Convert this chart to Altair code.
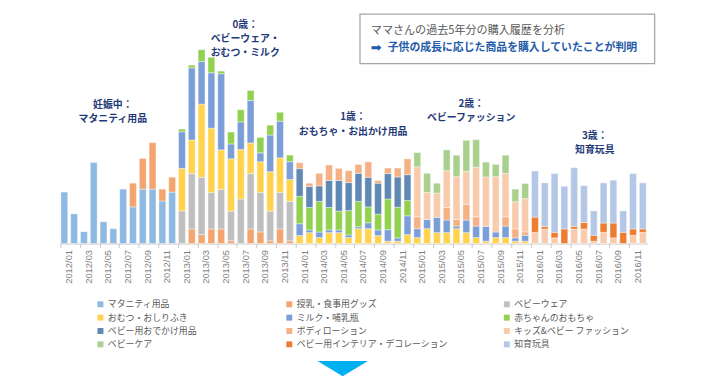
import altair as alt
import pandas as pd

months = [f"{y}/{m:02d}" for y in range(2012, 2017) for m in range(1, 13)]
odd_months = [m for m in months if int(m[-2:]) % 2 == 1]

categories = ["マタニティ用品", "授乳・食事用グッズ", "ベビーウェア",
              "おむつ・おしりふき", "ミルク・哺乳瓶", "赤ちゃんのおもちゃ",
              "ベビー用おでかけ用品", "ボディローション", "キッズ&ベビー ファッション",
              "ベビーケア", "ベビー用インテリア・デコレーション", "知育玩具"]
colors = ["#8db9e2", "#f4a46e", "#bfbfbf",
          "#ffd34e", "#7b9ed9", "#92d050",
          "#5f88b4", "#f5b183", "#f8cbad",
          "#a9d18e", "#ed7d31", "#b4c7e7"]

Z = [0] * 12
maternity = [52, 30, 12, 82, 22, 15, 55, 37, 55, 55, 43, 52] + Z + Z + Z + Z
feeding = [0, 0, 0, 0, 0, 0, 0, 24, 31, 47, 12, 15] + \
          [0, 14.7, 9, 14.7, 14.7, 2.7, 0, 14.7, 11.7, 2.7, 14.7, 2.7] + Z + Z + Z
babywear = Z + [33, 56, 58, 37, 40, 30, 45, 56, 40, 30, 37, 40] + Z + Z + Z
diapers = Z + [43, 34, 74, 65, 40, 53, 50, 31, 31, 40, 35, 22] + \
          [8, 11, 6, 11, 11, 6, 15, 15, 8, 2.3, 2.3, 9] + \
          [6, 15, 11, 11, 15, 11, 6, 2.3, 6, 6, 2.3, 2.3] + Z
milk = Z + [37, 73, 43, 56, 77, 15, 28, 43, 9, 37, 37, 18] + \
       [12, 2.7, 5.6, 2.7, 2.7, 2.6, 2, 6, 5.7, 11.7, 3.4, 19] + \
       [9, 9.3, 15.4, 12.7, 2.6, 12.7, 11.6, 15, 5.6, 11.6, 3.4, 6] + Z
toys = Z + [2.7, 2.7, 12, 15.7, 2.7, 12, 12.3, 10, 15.6, 10, 9, 6.7] + \
       [27.7, 22.7, 31, 22.7, 19, 24.7, 25.6, 16, 16, 31, 31, 15.6] + Z + Z
outing = Z + Z + [28, 21.3, 15.7, 27.3, 31, 28.3, 28.4, 30, 31.3, 25.7, 30.6, 26] + Z + Z
lotion = Z + Z + [6, 3.3, 12.7, 15.7, 12.3, 12, 9, 15.6, 2.7, 5.6, 9, 16] + \
         [12, 0, 0, 12.7, 6.7, 16, 9.4, 0, 0, 9.4, 9, 3.4] + Z
fashion = Z + Z + Z + [50.6, 27.3, 24.6, 37.3, 43.3, 33.3, 50, 50, 56, 44, 27.6, 33.7] + \
          [11.3, 14.7, 5.7, 0, 14.7, 14.7, 2.3, 11.3, 5.7, 0, 8.3, 11.3]
babycare = Z + Z + Z + [14.4, 19.4, 10, 21, 21.7, 31.4, 28, 15, 12.4, 18.3, 12.7, 15.3] + Z
interior = Z + Z + Z + Z + [15.4, 2.6, 5.6, 14.7, 2.6, 6.6, 6, 9.4, 15, 11.3, 6.4, 3.4]
edu_toys = Z + Z + Z + Z + [46.6, 44, 59.4, 43.3, 59.4, 37.3, 24.7, 40.6, 43.3, 21.7, 56, 46.6]

series = [maternity, feeding, babywear, diapers, milk, toys,
          outing, lotion, fashion, babycare, interior, edu_toys]

rows = []
for i, (cat, vals) in enumerate(zip(categories, series)):
    for m, v in zip(months, vals):
        if v > 0:
            rows.append({"month": m, "cat": cat, "idx": i, "value": v})
df = pd.DataFrame(rows)

JP = "Noto Sans CJK JP"

bars = alt.Chart(df).mark_bar(stroke="white", strokeWidth=0.5, strokeOpacity=0.8).encode(
    x=alt.X("month:N", sort=months,
            scale=alt.Scale(domain=months, paddingInner=0.3, paddingOuter=0.15),
            axis=alt.Axis(values=odd_months, title=None, labelAngle=270,
                          labelAlign="right", labelBaseline="middle",
                          labelFont="Liberation Sans", labelFontSize=9.5,
                          labelColor="#7f7f7f", labelPadding=2, labelOffset=5,
                          domainColor="#c8c8c8", tickColor="#c8c8c8",
                          tickSize=4, bandPosition=0, grid=False)),
    y=alt.Y("value:Q", stack="zero", axis=None,
            scale=alt.Scale(domain=[0, 236], nice=False)),
    color=alt.Color("cat:N", scale=alt.Scale(domain=categories, range=colors), legend=None),
    order=alt.Order("idx:Q", sort="ascending"),
)

# legends: three columns
legend_layers = []
col_x = [37, 228, 448]
for c in range(3):
    sub_cats = [categories[r * 3 + c] for r in range(4)]
    sub_cols = [colors[r * 3 + c] for r in range(4)]
    legend_layers.append(
        alt.Chart(df).transform_filter("false").mark_square(opacity=1).encode(
            color=alt.Color("cat:N", scale=alt.Scale(domain=sub_cats, range=sub_cols),
                            legend=alt.Legend(orient="none", legendX=col_x[c], legendY=293,
                                              title=None, symbolType="square", symbolSize=36,
                                              symbolStrokeWidth=0, symbolOpacity=1,
                                              labelFont=JP, labelFontSize=9,
                                              labelColor="#595959", rowPadding=3.5,
                                              labelOffset=3, padding=0,
                                              direction="vertical"))
        )
    )

# annotations (plot-relative pixel positions)
ann_text = ["妊娠中：", "マタニティ用品",
            "0歳：", "ベビーウェア・", "おむつ・ミルク",
            "1歳：", "おもちゃ・お出かけ用品",
            "2歳：", "ベビーファッション",
            "3歳：", "知育玩具"]
ann_x = [54, 54, 188, 188, 188, 297, 297, 416.5, 416.5, 541.5, 541.5]
ann_y = [96, 110, 15, 29, 43, 108.5, 123, 95, 109, 127, 141]
ann_df = pd.DataFrame({"t": ann_text, "px": ann_x, "py": ann_y})
ann = alt.Chart(ann_df).mark_text(font=JP, fontSize=10, fontWeight="bold",
                                   color="#1f3a78", align="center",
                                   baseline="middle").encode(
    x=alt.X("px:Q", scale=None), y=alt.Y("py:Q", scale=None), text="t:N")

one = pd.DataFrame({"a": [0]})
box = alt.Chart(one).mark_rect(fill="white", stroke="#a6a6a6", strokeWidth=1.3).encode(
    x=alt.value(304), x2=alt.value(602), y=alt.value(4), y2=alt.value(54))
box_t1 = alt.Chart(one).mark_text(font=JP, fontSize=11.2, color="#595959",
                                  align="left", baseline="middle").encode(
    x=alt.value(315), y=alt.value(21), text=alt.value("ママさんの過去5年分の購入履歴を分析"))
box_arrow = alt.Chart(one).mark_text(font="DejaVu Sans", fontSize=13, color="#1e5aa8",
                                     align="left", baseline="middle").encode(
    x=alt.value(315), y=alt.value(38), text=alt.value("➡"))
box_t2 = alt.Chart(one).mark_text(font=JP, fontSize=11, fontWeight="bold", color="#1e5aa8",
                                  align="left", baseline="middle").encode(
    x=alt.value(332), y=alt.value(38),
    text=alt.value("子供の成長に応じた商品を購入していたことが判明"))

tri = alt.Chart(one).mark_point(shape="M -1 -0.3 L 1 -0.3 L 0 0.3 Z", filled=True,
                                fill="#00b0f0", strokeWidth=0, size=2601, opacity=1).encode(
    x=alt.value(286.5), y=alt.value(362.5))

chart = alt.layer(bars, box, box_t1, box_arrow, box_t2, ann, tri, *legend_layers).resolve_scale(
    color="independent"
).properties(
    width=595, height=236,
    autosize=alt.AutoSizeParams(type="none"),
    padding={"left": 52, "top": 0, "right": 63, "bottom": 147},
    background="white",
).configure_view(strokeWidth=0)

chart.save("out.html", embed_options={"renderer": "svg", "actions": False})
